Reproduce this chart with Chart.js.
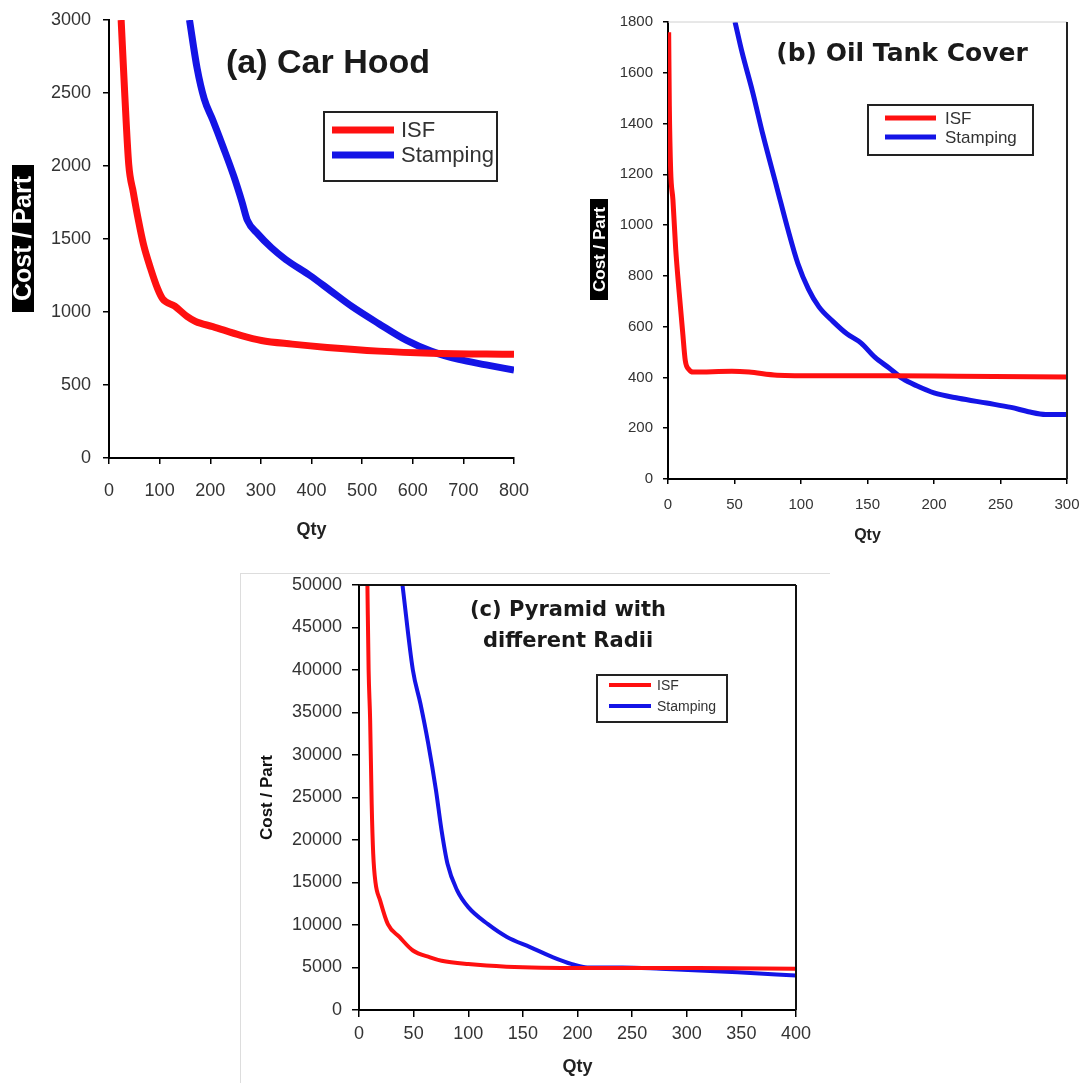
<!DOCTYPE html>
<html>
<head>
<meta charset="utf-8">
<script src="https://cdn.jsdelivr.net/npm/chart.js@4.4.1/dist/chart.umd.min.js"></script>
<style>
  html, body { margin: 0; padding: 0; background: #fff; }
  body { position: relative; width: 1086px; height: 1083px; overflow: hidden; }
  .panel { position: absolute; }
  #frameC { position: absolute; left: 240px; top: 573px; width: 590px; height: 510px;
            border-top: 1px solid #ddd; border-left: 1px solid #ddd; box-sizing: border-box; }
</style>
</head>
<body>
<div id="frameC"></div>
<div class="panel" style="left:0;top:0"><canvas id="chartA" width="540" height="560"></canvas></div>
<div class="panel" style="left:540px;top:0"><canvas id="chartB" width="546" height="560"></canvas></div>
<div class="panel" style="left:240px;top:560px"><canvas id="chartC" width="600" height="523"></canvas></div>
<script>
// (a) Car Hood
const hoodIsfQty = [24, 31, 39, 48, 58, 68, 82, 96, 106, 130, 154, 171, 205, 260, 301, 362, 431, 533, 636, 800];
const hoodIsfCost = [3000, 2500, 2010, 1820, 1630, 1465, 1300, 1160, 1090, 1040, 970, 935, 900, 840, 805, 780, 757, 732, 718, 710];
const hoodStampQty = [159, 174, 188, 205, 226, 246, 263, 273, 294, 321, 349, 397, 438, 479, 533, 588, 636, 691, 745, 800];
const hoodStampCost = [3000, 2670, 2460, 2315, 2125, 1935, 1750, 1630, 1535, 1440, 1360, 1250, 1145, 1040, 920, 805, 732, 675, 638, 602];

// (b) Oil Tank Cover
const tankIsfQty = [0.5, 1, 2, 3.7, 5.8, 8.4, 11, 13, 15.8, 19, 48, 61, 82, 114, 166, 218, 300];
const tankIsfCost = [1760, 1470, 1215, 1100, 905, 735, 580, 466, 431, 421, 424, 421, 409, 407, 407, 405, 402];
const tankStampQty = [50.4, 55.7, 63.6, 71.4, 82, 89.8, 97.7, 105.6, 113.5, 124, 134.5, 145, 155.5, 166, 176.5, 187, 200, 218.5, 239.6, 258, 271, 284, 300];
const tankStampCost = [1800, 1680, 1525, 1355, 1145, 990, 848, 748, 678, 621, 572, 536, 480, 438, 395, 367, 339, 318, 299, 282, 265, 254, 254];

// (c) Pyramid with different Radii
const pyramidIsfQty = [7.7, 8.8, 10.2, 11.6, 13, 15.1, 19.3, 26.4, 37, 49.3, 65, 75.6, 100, 135, 206, 311, 400];
const pyramidIsfCost = [50000, 40000, 34100, 24300, 18400, 15000, 12900, 10100, 8600, 7000, 6200, 5800, 5400, 5100, 4950, 4950, 4850];
const pyramidStampQty = [39.8, 49.3, 56.3, 63.3, 70.4, 75.6, 81, 89.7, 100, 118, 135.4, 156.6, 177.7, 195, 209, 241, 276, 346.5, 400];
const pyramidStampCost = [50000, 40000, 36000, 31400, 25900, 21100, 17200, 14100, 12100, 10100, 8600, 7400, 6200, 5400, 5000, 5000, 4850, 4450, 4050];

const seriesNames = ["ISF", "Stamping"];
const RED = "#ff1010";
const BLUE = "#1414e6";

function points(xs, ys) {
  return xs.map((x, i) => ({ x: x, y: ys[i] }));
}

// draws titles, the black y-title box, the boxed legend and extra frame lines
function makeDecor(cfg) {
  return {
    id: "decor",
    afterDraw(chart) {
      const ctx = chart.ctx;
      const area = chart.chartArea;
      ctx.save();

      if (cfg.frame) {
        if (cfg.frame.top) {
          ctx.strokeStyle = cfg.frame.top; ctx.lineWidth = cfg.frame.topWidth || 2;
          ctx.beginPath(); ctx.moveTo(area.left, area.top); ctx.lineTo(area.right, area.top); ctx.stroke();
        }
        if (cfg.frame.right) {
          ctx.strokeStyle = cfg.frame.right; ctx.lineWidth = 2;
          ctx.beginPath(); ctx.moveTo(area.right, area.top); ctx.lineTo(area.right, area.bottom); ctx.stroke();
        }
      }

      if (cfg.title) {
        ctx.fillStyle = "#1a1a1a";
        ctx.font = cfg.title.font;
        ctx.textAlign = "center";
        ctx.textBaseline = "middle";
        cfg.title.lines.forEach((t, i) => ctx.fillText(t, cfg.title.x, cfg.title.y + i * cfg.title.gap));
      }

      if (cfg.yBox) {
        const b = cfg.yBox;
        ctx.fillStyle = "#000";
        ctx.fillRect(b.x, b.y, b.w, b.h);
        ctx.translate(b.x + b.w / 2, b.y + b.h / 2);
        ctx.rotate(-Math.PI / 2);
        ctx.fillStyle = "#fff";
        ctx.font = b.font;
        ctx.textAlign = "center";
        ctx.textBaseline = "middle";
        ctx.fillText(b.text, 0, 1, b.h - 4);
        ctx.setTransform(1, 0, 0, 1, 0, 0);
      }

      if (cfg.legend) {
        const L = cfg.legend;
        ctx.fillStyle = "#fff";
        ctx.fillRect(L.x, L.y, L.w, L.h);
        ctx.strokeStyle = "#222";
        ctx.lineWidth = 2;
        ctx.strokeRect(L.x, L.y, L.w, L.h);
        chart.data.datasets.forEach((ds, i) => {
          const y = L.rows[i];
          ctx.strokeStyle = ds.borderColor;
          ctx.lineWidth = L.lineWidth;
          ctx.beginPath(); ctx.moveTo(L.x1, y); ctx.lineTo(L.x2, y); ctx.stroke();
          ctx.fillStyle = "#333";
          ctx.font = L.font;
          ctx.textAlign = "left";
          ctx.textBaseline = "middle";
          ctx.fillText(ds.label, L.textX, y + 1);
        });
      }
      ctx.restore();
    }
  };
}

function axis(min, max, step, opts) {
  return {
    type: "linear",
    min: min,
    max: max,
    afterFit: s => {
      // fixed axis box sizes so the plot area sits where the original one does
      if (s.isHorizontal()) { s.height = opts.size; s.paddingLeft = 0; s.paddingRight = 0; }
      else { s.width = opts.size; s.paddingTop = 0; s.paddingBottom = 0; }
    },
    ticks: {
      stepSize: step,
      padding: opts.pad,
      color: "#333",
      font: { family: "Liberation Sans", size: opts.fontSize },
      callback: v => String(v),
      maxRotation: 0,
      autoSkip: false
    },
    grid: { drawOnChartArea: false, drawTicks: true, tickLength: opts.tick, color: "#000", lineWidth: 1.5 },
    border: { display: true, color: "#000", width: 2 },
    title: opts.title || { display: false }
  };
}

function makeChart(id, isf, stamp, width, scales, padding, decor) {
  return new Chart(document.getElementById(id), {
    type: "line",
    data: {
      datasets: [
        { label: seriesNames[0], data: isf, borderColor: RED, backgroundColor: RED, borderWidth: width,
          pointRadius: 0, cubicInterpolationMode: "monotone", fill: false },
        { label: seriesNames[1], data: stamp, borderColor: BLUE, backgroundColor: BLUE, borderWidth: width,
          pointRadius: 0, cubicInterpolationMode: "monotone", fill: false }
      ]
    },
    options: {
      responsive: false,
      animation: false,
      layout: { padding: padding },
      plugins: { legend: { display: false }, tooltip: { enabled: false } },
      scales: scales
    },
    plugins: [makeDecor(decor)]
  });
}

makeChart("chartA",
  points(hoodIsfQty, hoodIsfCost), points(hoodStampQty, hoodStampCost), 7,
  {
    x: axis(0, 800, 100, { size: 102, pad: 16, tick: 6, fontSize: 18,
      title: { display: true, text: "Qty", color: "#222", font: { family: "Liberation Sans", size: 18, weight: "bold" }, padding: { top: 0, bottom: 19 } } }),
    y: axis(0, 3000, 500, { size: 109, pad: 12, tick: 6, fontSize: 18 })
  },
  { top: 20, right: 26, left: 0, bottom: 0 },
  {
    title: { lines: ["(a) Car Hood"], x: 328, y: 64, gap: 0, font: "bold 34px 'Liberation Sans'" },
    yBox: { x: 12, y: 165, w: 22, h: 147, text: "Cost / Part", font: "bold 25px 'Liberation Sans'" },
    legend: { x: 324, y: 112, w: 173, h: 69, x1: 332, x2: 394, rows: [130, 155], textX: 401,
      font: "22px 'Liberation Sans'", lineWidth: 7 }
  }
);

makeChart("chartB",
  points(tankIsfQty, tankIsfCost), points(tankStampQty, tankStampCost), 5,
  {
    x: axis(0, 300, 50, { size: 81, pad: 12, tick: 5, fontSize: 15,
      title: { display: true, text: "Qty", color: "#222", font: { family: "Liberation Sans", size: 16, weight: "bold" }, padding: { top: 0, bottom: 15 } } }),
    y: axis(0, 1800, 200, { size: 128, pad: 10, tick: 5, fontSize: 15 })
  },
  { top: 22, right: 19, left: 0, bottom: 0 },
  {
    frame: { top: "#d0d0d0", topWidth: 1, right: "#222" },
    title: { lines: ["(b) Oil Tank Cover"], x: 362, y: 54, gap: 0, font: "bold 25px 'DejaVu Sans'" },
    yBox: { x: 50, y: 199, w: 18, h: 101, text: "Cost / Part", font: "bold 17px 'Liberation Sans'" },
    legend: { x: 328, y: 105, w: 165, h: 50, x1: 345, x2: 396, rows: [118, 137], textX: 405,
      font: "17px 'Liberation Sans'", lineWidth: 5 }
  }
);

makeChart("chartC",
  points(pyramidIsfQty, pyramidIsfCost), points(pyramidStampQty, pyramidStampCost), 4,
  {
    x: axis(0, 400, 50, { size: 73, pad: 6, tick: 7, fontSize: 18,
      title: { display: true, text: "Qty", color: "#222", font: { family: "Liberation Sans", size: 18, weight: "bold" }, padding: { top: 0, bottom: 5 } } }),
    y: axis(0, 50000, 5000, { size: 119, pad: 10, tick: 7, fontSize: 18,
      title: { display: true, text: "Cost / Part", color: "#111", font: { family: "Liberation Sans", size: 17, weight: "bold" }, padding: { top: 17, bottom: 0 } } })
  },
  { top: 25, right: 44, left: 0, bottom: 0 },
  {
    frame: { top: "#111", topWidth: 2, right: "#111" },
    title: { lines: ["(c) Pyramid with", "different Radii"], x: 328, y: 51, gap: 31, font: "bold 21px 'DejaVu Sans'" },
    legend: { x: 357, y: 115, w: 130, h: 47, x1: 369, x2: 411, rows: [125, 146], textX: 417,
      font: "14px 'Liberation Sans'", lineWidth: 4 }
  }
);
</script>
</body>
</html>
